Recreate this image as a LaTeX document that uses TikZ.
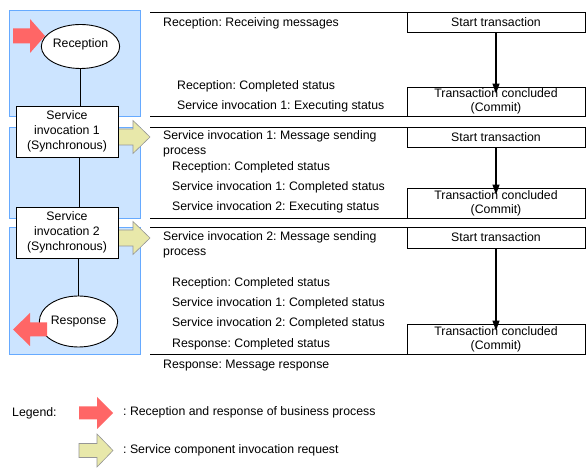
\documentclass[tikz,border=0pt]{standalone}
\usepackage{fontspec}
\setmainfont{Liberation Sans}
\usetikzlibrary{shapes.geometric,arrows.meta}
\definecolor{bfill}{RGB}{204,228,255}
\definecolor{bline}{RGB}{102,170,255}
\definecolor{redar}{RGB}{255,102,102}
\definecolor{yelar}{RGB}{232,232,170}
\definecolor{yelline}{RGB}{150,150,150}
\frenchspacing
\begin{document}
\begin{tikzpicture}[x=1pt,y=-1pt,
  font=\fontsize{12.3}{14}\selectfont,
  zone/.style={fill=bfill,draw=bline,line width=0.9pt},
  proc/.style={draw,fill=white,line width=0.9pt,minimum width=102pt,minimum height=51pt,align=center,inner sep=0pt,font=\fontsize{12.3}{15}\selectfont},
  ev/.style={ellipse,draw,fill=white,line width=0.9pt,inner sep=0pt},
  tx/.style={anchor=base west,inner sep=0pt},
  tx2/.style={anchor=north west,inner sep=0pt,align=left,font=\fontsize{12.3}{15}\selectfont},
  trbox/.style={draw,line width=0.9pt,minimum width=178pt,align=center,inner sep=0pt},
  sepline/.style={line width=0.9pt},
  flow/.style={line width=1.2pt,-{Triangle[width=7pt,length=10pt]}},
  link/.style={line width=0.9pt},
  redarrow/.style={fill=redar},
  yelarrow/.style={fill=yelar,draw=yelline,line width=0.6pt}
]
\useasboundingbox (0,0) rectangle (587,470);
\fill[white] (0,0) rectangle (587,470);

% blue zones
\draw[zone] (9,10) rectangle (140,116);
\draw[zone] (9,127) rectangle (140,218);
\draw[zone] (9,227) rectangle (140,354);

% separator lines
\draw[sepline] (150,12.7) -- (585,12.7);
\draw[sepline] (150,116) -- (585,116);
\draw[sepline] (150,127) -- (585,127);
\draw[sepline] (150,218) -- (585,218);
\draw[sepline] (150,227) -- (585,227);
\draw[sepline] (150,354) -- (585,354);

% yellow invocation arrows
\draw[yelarrow] (112,129) -- (133,129) -- (133,120.5) -- (150,137) -- (133,153.5) -- (133,145) -- (112,145) -- cycle;
\draw[yelarrow] (112,230) -- (133,230) -- (133,221.5) -- (150,238) -- (133,254.5) -- (133,246) -- (112,246) -- cycle;

% left flow
\node[ev,minimum width=77pt,minimum height=44pt,text depth=7.8pt] (rec) at (80.5,46.5) {Reception};
\node[proc] (s1) at (67,131.5) {Service\\invocation 1\\(Synchronous)};
\node[proc] (s2) at (67,232.5) {Service\\invocation 2\\(Synchronous)};
\node[ev,minimum width=73pt,minimum height=51pt] (resp) at (78.5,321.5) {Response};
\draw[link] (rec.south) -- (rec.south |- s1.north);
\draw[link] ([xshift=12pt]s1.south) -- ([xshift=12pt]s2.north);
\draw[link] (resp.north |- s2.south) -- (resp.north);

% red business arrows
\fill[redarrow] (13,28.5) -- (30,28.5) -- (30,19) -- (45,36) -- (30,53) -- (30,43.5) -- (13,43.5) -- cycle;
\fill[redarrow] (47,322.5) -- (30,322.5) -- (30,313) -- (13,329.5) -- (30,346) -- (30,336.5) -- (47,336.5) -- cycle;

% right: transactions
\node[trbox,minimum height=19.3pt] (st1) at (496,22.35) {Start transaction};
\node[trbox,minimum height=29pt] (tc1) at (496,101.5) {Transaction concluded\\(Commit)};
\node[trbox,minimum height=20pt] (st2) at (496,137) {Start transaction};
\node[trbox,minimum height=30pt] (tc2) at (496,203) {Transaction concluded\\(Commit)};
\node[trbox,minimum height=21pt] (st3) at (496,237.5) {Start transaction};
\node[trbox,minimum height=30pt] (tc3) at (496,339) {Transaction concluded\\(Commit)};
\draw[flow,shorten >=-7pt] (st1) -- (tc1);
\draw[flow,shorten >=-7pt] (st2) -- (tc2);
\draw[flow,shorten >=-7pt] (st3) -- (tc3);

% right: status texts
\node[tx] (t11) at (163,27) {Reception: Receiving messages};
\node[tx] (t12) at (177,90) {Reception: Completed status};
\node[tx] (t13) at (177,110) {Service invocation 1: Executing status};

\node[tx2] (t21) at (163,130.3) {Service invocation 1: Message sending\\process};
\node[tx] (t22) at (172,171) {Reception: Completed status};
\node[tx] (t23) at (172,191) {Service invocation 1: Completed status};
\node[tx] (t24) at (172,211) {Service invocation 2: Executing status};

\node[tx2] (t31) at (163,231) {Service invocation 2: Message sending\\process};
\node[tx] (t32) at (172,286.7) {Reception: Completed status};
\node[tx] (t33) at (172,306.7) {Service invocation 1: Completed status};
\node[tx] (t34) at (172,326.7) {Service invocation 2: Completed status};
\node[tx] (t35) at (172,347.7) {Response: Completed status};
\node[tx] (t36) at (163,368.3) {Response: Message response};

% legend
\node[tx] (leg) at (12,416.7) {Legend:};
\fill[redarrow] (79,406.5) -- (97,406.5) -- (97,397) -- (113,413) -- (97,429) -- (97,419.5) -- (79,419.5) -- cycle;
\node[tx] (leg1) at (123,416) {: Reception and response of business process};
\draw[yelarrow] (79,443.5) -- (97,443.5) -- (97,434) -- (113,450.5) -- (97,467) -- (97,457.5) -- (79,457.5) -- cycle;
\node[tx] (leg2) at (123,454) {: Service component invocation request};
\end{tikzpicture}
\end{document}
